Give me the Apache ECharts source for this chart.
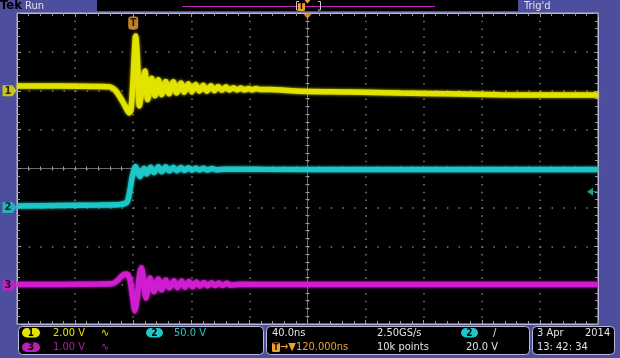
<!DOCTYPE html>
<html><head><meta charset="utf-8">
<script src="https://cdn.jsdelivr.net/npm/echarts@6/dist/echarts.min.js"></script>
<style>html,body{margin:0;padding:0;background:#4e4e9e;}#c{width:620px;height:358px;}</style>
</head><body><div id="c"></div>
<script>
// time in ns relative to trigger, value in screen divisions
const ch1Points = [[-80,2.12],[-50.4,2.12],[-22.86,2.11],[-15.97,2.10],[-12.53,2.02],[-9.09,1.84],[-5.65,1.61],[-2.89,1.43],[-1.51,1.51],[-0.14,2.28],[1.72,3.41],[2.96,2.79],[4.20,1.61],[6.06,2.02],[8.12,2.51],[9.98,1.77],[12.74,2.32],[15.01,1.87],[17.28,2.28],[19.62,1.90],[22.38,2.24],[24.65,1.92],[27.61,2.23],[29.95,1.94],[32.91,2.20],[35.18,1.96],[37.94,2.18],[40.28,1.97],[43.03,2.16],[45.51,1.99],[48.26,2.14],[50.60,1.99],[53.56,2.13],[55.84,2.00],[58.59,2.11],[60.93,2.01],[63.89,2.10],[66.30,2.02],[69.05,2.08],[71.46,2.02],[74.22,2.07],[76.63,2.02],[79.38,2.06],[81.79,2.02],[84.54,2.06],[87.30,2.03],[94.18,2.03],[114.84,1.99],[149.26,1.97],[183.68,1.94],[218.11,1.92],[252.53,1.90],[286.95,1.89],[320,1.89]];
const ch2Points = [[-80,-0.965],[-50.4,-0.952],[-22.86,-0.939],[-9.09,-0.926],[-4.96,-0.887],[-3.58,-0.810],[-2.20,-0.553],[-0.83,-0.244],[0.55,-0.039],[1.58,0.051],[2.96,-0.064],[4.68,-0.211],[7.44,0.005],[9.29,-0.141],[12.05,0.031],[14.32,-0.108],[17.28,0.046],[19.62,-0.082],[22.38,0.046],[24.85,-0.064],[27.61,0.031],[29.95,-0.057],[32.91,0.023],[35.32,-0.051],[38.07,0.018],[40.48,-0.046],[43.24,0.013],[45.65,-0.041],[48.40,0.005],[50.81,-0.039],[54.25,-0.003],[57.01,-0.033],[63.20,-0.018],[87.30,-0.021],[149.26,-0.026],[218.11,-0.026],[320,-0.026]];
const ch3Points = [[-80,-2.984],[-50.4,-2.984],[-22.86,-2.971],[-13.91,-2.958],[-10.46,-2.868],[-7.02,-2.740],[-4.27,-2.714],[-2.20,-2.868],[-0.48,-3.280],[1.24,-3.666],[2.62,-3.383],[4.34,-2.740],[5.71,-2.553],[7.09,-2.868],[8.81,-3.331],[11.57,-2.817],[14.32,-3.169],[17.28,-2.842],[19.62,-3.125],[22.58,-2.868],[24.85,-3.074],[28.09,-2.886],[30.36,-3.066],[33.39,-2.894],[35.66,-3.056],[38.42,-2.907],[40.83,-3.043],[43.58,-2.920],[45.99,-3.030],[48.74,-2.930],[51.15,-3.023],[53.91,-2.940],[56.32,-3.012],[59.07,-2.945],[61.48,-3.007],[64.58,-2.953],[66.99,-3.002],[73.53,-2.979],[94.18,-2.984],[183.68,-2.984],[320,-2.984]];
const channelNames = ['1','2','3'];
const channelLevels = [2, -1, -3];
const triggerLevel = -0.6;   // 20.0 V on CH2 at 50 V/div
const timeRange = [-80, 320]; // 40 ns/div, trigger delay 120 ns
const timeDiv = 40;
const voltRange = [-4, 4];
const statusTexts = {
  ch1Scale:'2.00 V', ch2Scale:'50.0 V', ch3Scale:'1.00 V',
  timebase:'40.0ns', rate:'2.50GS/s', delay:'\u2192\u25BC120.000ns', points:'10k points',
  trigLevel:'20.0 V', date:'3 Apr', year:'2014', time:'13: 42: 34'
};

const colors = ['#e4e400','#1ec8c8','#d21ed2'];
const BLUE = '#4e4e9e', ORANGE = '#f0a030', LIGHT = '#e2e2ea';
const FF = '"DejaVu Sans Condensed","DejaVu Sans",sans-serif';
const borderC = '#b8b8dc', tickC = '#9a9aa6', dotC = '#7c7c7c', centerC = '#6a6a6a';

function txt(x, y, t, color, size, weight, align) {
  return {type:'text', x:x, y:y, z:10, style:{text:t, fill:color, font:(weight||'normal')+' '+(size||11)+'px '+FF,
    align:align||'left', textAlign:align||'left', verticalAlign:'middle', textVerticalAlign:'middle'}};
}
function pill(x, y, w, h, color, label) {
  return [{type:'rect', z:10, shape:{x:x, y:y, width:w, height:h, r:h/2}, style:{fill:color}},
          txt(x + w/2, y + h/2 + 0.5, label, '#000', 10, 'bold', 'center')];
}

const chart = echarts.init(document.getElementById('c'), null, {renderer:'canvas'});

const xBase = {type:'value', min:timeRange[0], max:timeRange[1], interval:timeDiv, axisLabel:{show:false}, splitLine:{show:false}};
const yBase = {type:'value', min:voltRange[0], max:voltRange[1], interval:1, axisLabel:{show:false}, splitLine:{show:false}};
const borderAxis = {
  axisLine:{show:true, onZero:false, lineStyle:{color:borderC, width:1}},
  axisTick:{show:true, inside:true, length:4, lineStyle:{color:tickC}},
  minorTick:{show:true, splitNumber:5, length:3, lineStyle:{color:tickC}}
};
const centerTickX = timeDiv/5, centerTickY = 0.2;

const traceSeries = [ch1Points, ch2Points, ch3Points].map((pts, i) => ({
  type:'line', name:'CH'+channelNames[i], data:pts, xAxisIndex:0, yAxisIndex:0,
  showSymbol:false, smooth:0.25, z:3, silent:true,
  lineStyle:{color:colors[i], width:5.5, shadowColor:colors[i], shadowBlur:3, opacity:0.95}
}));

const graphic = [
  // top bar
  {type:'rect', shape:{x:97, y:0, width:421, height:11}, style:{fill:'#000'}},
  {type:'line', shape:{x1:182, y1:6.5, x2:435, y2:6.5}, style:{stroke:'#c020c0', lineWidth:1}},
  {type:'polyline', shape:{points:[[299,1.5],[296.5,1.5],[296.5,10],[299,10]]}, style:{stroke:'#c8c8c8', fill:null, lineWidth:1}},
  {type:'polyline', shape:{points:[[318,1.5],[320.5,1.5],[320.5,10],[318,10]]}, style:{stroke:'#c8c8c8', fill:null, lineWidth:1}},
  {type:'rect', shape:{x:298, y:2.5, width:7, height:8.5, r:1.5}, style:{fill:ORANGE}},
  txt(301.5, 7, 'T', '#000', 8, 'bold', 'center'),
  {type:'polygon', shape:{points:[[304.5,0],[310.5,0],[307.5,3.5]]}, style:{fill:ORANGE}},
  txt(0, 6, 'Tek', '#000', 13, 'bold'),
  txt(25, 6, 'Run', LIGHT, 11),
  txt(524, 6, "Trig'd", LIGHT, 11),
  // bottom status boxes
  {type:'rect', shape:{x:18.5, y:326.5, width:245, height:28, r:4}, style:{fill:'#000', stroke:borderC, lineWidth:1}},
  {type:'rect', shape:{x:266.5, y:326.5, width:263, height:28, r:4}, style:{fill:'#000', stroke:borderC, lineWidth:1}},
  {type:'rect', shape:{x:532.5, y:326.5, width:82, height:28, r:4}, style:{fill:'#000', stroke:borderC, lineWidth:1}},
  ...pill(22, 328, 18, 9.5, colors[0], '1'),
  txt(53, 333, statusTexts.ch1Scale, colors[0], 11),
  txt(101, 333, '\u223F', colors[0], 11),
  ...pill(146, 328, 17, 9.5, colors[1], '2'),
  txt(174, 333, statusTexts.ch2Scale, colors[1], 11),
  ...pill(22, 342.5, 18, 9.5, '#b820b8', '3'),
  txt(53, 347.5, statusTexts.ch3Scale, '#a822a8', 11),
  txt(101, 347.5, '\u223F', '#a822a8', 11),
  txt(272, 333, statusTexts.timebase, LIGHT, 11),
  txt(377, 333, statusTexts.rate, LIGHT, 11),
  ...pill(461, 328, 17, 9.5, colors[1], '2'),
  txt(493, 333, '/', LIGHT, 11),
  {type:'rect', z:10, shape:{x:272, y:342.5, width:8, height:9.5, r:1.5}, style:{fill:ORANGE}},
  txt(276, 347.5, 'T', '#000', 8, 'bold', 'center'),
  txt(280, 347.5, statusTexts.delay, ORANGE, 11),
  txt(377, 347.5, statusTexts.points, LIGHT, 11),
  txt(466, 347.5, statusTexts.trigLevel, LIGHT, 11),
  txt(537, 333, statusTexts.date, LIGHT, 11),
  txt(585, 333, statusTexts.year, LIGHT, 11),
  txt(537, 347.5, statusTexts.time, LIGHT, 11)
];

chart.setOption({
  animation:false,
  backgroundColor:BLUE,
  grid:{left:17, top:13, width:581, height:311, show:true, backgroundColor:'#000', borderColor:borderC, borderWidth:1},
  xAxis:[
    Object.assign({}, xBase, borderAxis, {position:'bottom',
      splitLine:{show:true, lineStyle:{color:dotC, width:1.5, type:[1.5, 6.275]}}}),
    Object.assign({}, xBase, borderAxis, {position:'top'}),
    Object.assign({}, xBase, {interval:centerTickX, position:'bottom', offset:-155.5,
      axisLine:{show:true, onZero:false, lineStyle:{color:centerC}},
      axisTick:{show:true, inside:true, length:2, lineStyle:{color:'#a0a0a0'}}}),
    Object.assign({}, xBase, {interval:centerTickX, position:'bottom', offset:-155.5,
      axisLine:{show:false, onZero:false},
      axisTick:{show:true, inside:false, length:2, lineStyle:{color:'#a0a0a0'}}})
  ],
  yAxis:[
    Object.assign({}, yBase, borderAxis, {position:'left',
      splitLine:{show:true, lineStyle:{color:dotC, width:1.5, type:[1.5, 10.12]}}}),
    Object.assign({}, yBase, borderAxis, {position:'right'}),
    Object.assign({}, yBase, {interval:centerTickY, position:'left', offset:-290.5,
      axisLine:{show:true, onZero:false, lineStyle:{color:centerC}},
      axisTick:{show:true, inside:true, length:2, lineStyle:{color:'#a0a0a0'}}}),
    Object.assign({}, yBase, {interval:centerTickY, position:'left', offset:-290.5,
      axisLine:{show:false, onZero:false},
      axisTick:{show:true, inside:false, length:2, lineStyle:{color:'#a0a0a0'}}})
  ],
  series:[
    ...traceSeries,
    {type:'scatter', xAxisIndex:0, yAxisIndex:0, clip:false, silent:true, z:6,
      symbol:'path://M0,0 L10,0 L14,5 L10,10 L0,10 Z', symbolSize:[14,11], symbolOffset:[-7.5,0],
      data:channelLevels.map((lv,i)=>({name:channelNames[i], value:[timeRange[0], lv], itemStyle:{color:colors[i]}})),
      label:{show:true, position:'inside', formatter:'{b}', color:'#000', fontSize:11, fontWeight:'bold', fontFamily:FF, offset:[-1.5,0]}},
    {type:'scatter', xAxisIndex:0, yAxisIndex:0, clip:false, silent:true, z:6,
      symbol:'path://M0,4 L6,0 L6,8 Z M6,3.5 L10,3.5 L10,4.5 L6,4.5 Z', symbolSize:[10,8], symbolOffset:[-6,0],
      data:[[timeRange[1], triggerLevel]], itemStyle:{color:colors[1]}},
    {type:'scatter', xAxisIndex:0, yAxisIndex:0, clip:false, silent:true, z:6,
      symbol:'roundRect', symbolSize:[10,13], symbolOffset:[0,10],
      data:[{name:'T', value:[0, voltRange[1]]}], itemStyle:{color:ORANGE},
      label:{show:true, position:'inside', formatter:'{b}', color:'#000', fontSize:10, fontWeight:'bold', fontFamily:FF}},
    {type:'scatter', xAxisIndex:0, yAxisIndex:0, clip:false, silent:true, z:6,
      symbol:'path://M0,0 L10,0 L5,6 Z', symbolSize:[10,6], symbolOffset:[0,3],
      data:[[(timeRange[0]+timeRange[1])/2, voltRange[1]]], itemStyle:{color:ORANGE}}
  ],
  graphic:graphic
});
</script></body></html>
